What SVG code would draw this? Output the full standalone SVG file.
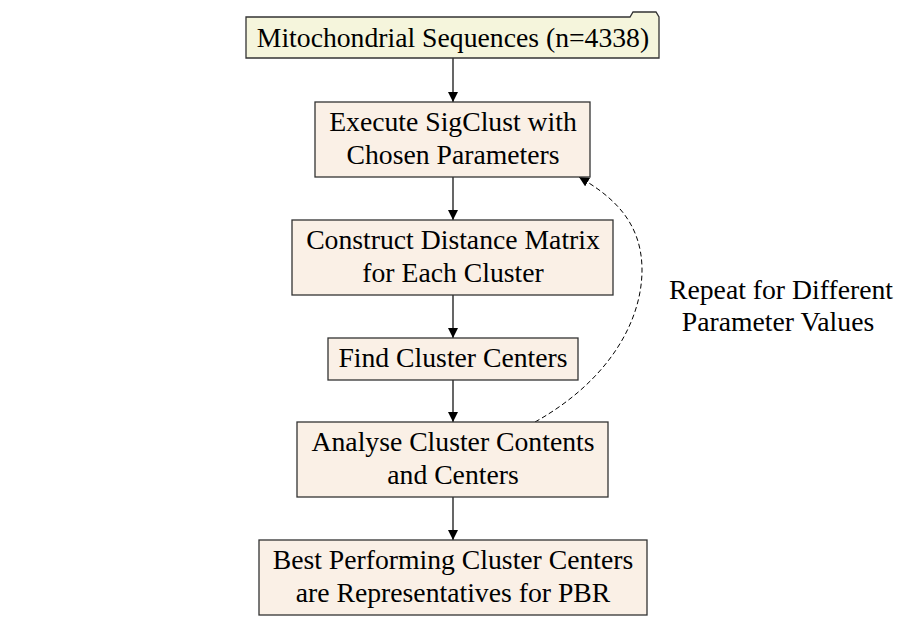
<svg xmlns="http://www.w3.org/2000/svg" width="901" height="630" viewBox="0 0 901 630">
<defs>
<style>
.box{fill:#faf0e6;stroke:#333;stroke-width:1.3}
.fold{fill:#f5f5dc;stroke:#333;stroke-width:1.3}
text{font-family:"Liberation Serif","Times New Roman",serif;font-size:27.7px;fill:#000;text-anchor:middle}
.e{stroke:#000;stroke-width:1.2;fill:none}
.d{stroke:#000;stroke-width:1;fill:none;stroke-dasharray:5,3}
</style>
<marker id="ah" viewBox="0 0 10 10" refX="10" refY="5" markerWidth="10" markerHeight="10" markerUnits="userSpaceOnUse" orient="auto">
<path d="M0,0 L10,5 L0,10 z" fill="#000"/>
</marker>
</defs>
<rect width="901" height="630" fill="#fff"/>
<g id="edges">
<line class="e" x1="453" y1="58" x2="453" y2="102" marker-end="url(#ah)"/>
<line class="e" x1="453" y1="177" x2="453" y2="220" marker-end="url(#ah)"/>
<line class="e" x1="453" y1="295" x2="453" y2="338" marker-end="url(#ah)"/>
<line class="e" x1="453" y1="380" x2="453" y2="422" marker-end="url(#ah)"/>
<line class="e" x1="453" y1="497" x2="453" y2="540" marker-end="url(#ah)"/>
<path class="d" d="M535,422 C610,380 642,320 642,270 C642,220 610,195 579,177" marker-end="url(#ah)"/>
<text x="781" y="299">Repeat for Different</text>
<text x="778" y="331">Parameter Values</text>
</g>
<g id="n1">
<path class="fold" d="M246,17 L630,17 L633,12 L656,12 L659,17 L659,58 L246,58 Z"/>
<text x="453" y="47">Mitochondrial Sequences (n=4338)</text>
</g>
<g id="n2">
<rect class="box" x="315" y="102" width="275" height="75"/>
<text x="453" y="131">Execute SigClust with</text>
<text x="453" y="164">Chosen Parameters</text>
</g>
<g id="n3">
<rect class="box" x="292" y="220" width="321" height="75"/>
<text x="453" y="249">Construct Distance Matrix</text>
<text x="453" y="282">for Each Cluster</text>
</g>
<g id="n4">
<rect class="box" x="328" y="338" width="250" height="42"/>
<text x="453" y="367">Find Cluster Centers</text>
</g>
<g id="n5">
<rect class="box" x="297" y="422" width="311" height="75"/>
<text x="453" y="451">Analyse Cluster Contents</text>
<text x="453" y="484">and Centers</text>
</g>
<g id="n6">
<rect class="box" x="259" y="540" width="388" height="75"/>
<text x="453" y="569">Best Performing Cluster Centers</text>
<text x="453" y="602">are Representatives for PBR</text>
</g>
</svg>
